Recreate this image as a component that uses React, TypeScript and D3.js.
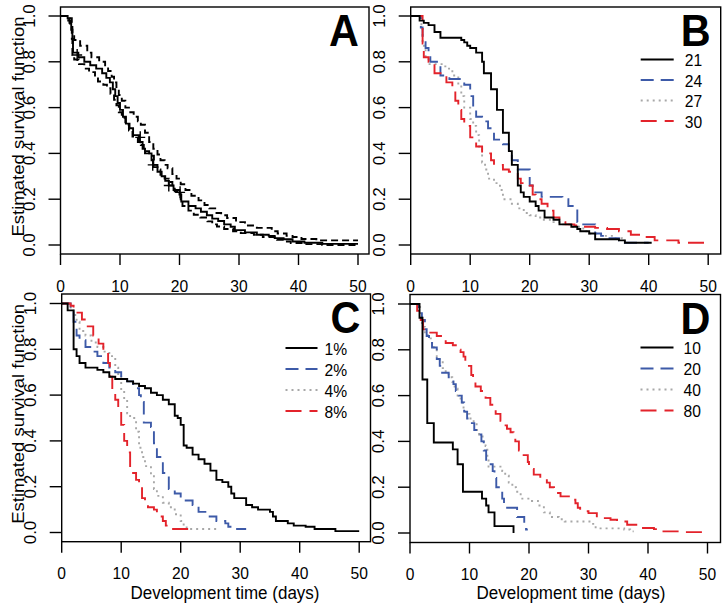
import React from "react";
import * as d3 from "d3";

type Pt = [number, number];

// ---------- DATA ----------
const xTicks = [0, 10, 20, 30, 40, 50];
const yTicks = [0, 0.2, 0.4, 0.6, 0.8, 1.0];
const yTickLabels = ["0.0", "0.2", "0.4", "0.6", "0.8", "1.0"];
const panelLetters = ["A", "B", "C", "D"];
const legendB = ["21", "24", "27", "30"];
const legendC = ["1%", "2%", "4%", "8%"];
const legendD = ["10", "20", "40", "80"];
const yTitle = "Estimated survival function";
const xTitle = "Development time (days)";

// Panel A: overall KM estimate with confidence band
const survA: Pt[] = [[0,1],[1.2,0.99],[1.5,0.97],[1.8,0.94],[2.0,0.90],[2.1,0.84],[3.0,0.82],[4.0,0.80],[5.0,0.785],[6.0,0.77],[7.0,0.75],[7.7,0.73],[8.3,0.71],[8.8,0.68],[9.2,0.65],[9.6,0.62],[10.0,0.59],[10.5,0.56],[11.0,0.53],[11.6,0.51],[12.2,0.48],[13.2,0.45],[13.8,0.42],[14.2,0.40],[15.3,0.37],[15.6,0.34],[16.3,0.32],[17.0,0.30],[17.6,0.28],[18.2,0.26],[19.0,0.24],[20.0,0.22],[20.3,0.19],[21.5,0.17],[22.7,0.16],[23.6,0.145],[24.6,0.13],[25.5,0.115],[26.5,0.105],[27.5,0.09],[28.6,0.08],[29.3,0.065],[31.0,0.055],[33.0,0.045],[35.0,0.04],[36.0,0.03],[37.5,0.025],[39.0,0.015],[41.0,0.01],[44.0,0.005],[50.0,0.005]];
const upperA: Pt[] = [[0,1],[1.5,0.99],[1.9,0.96],[2.0,0.92],[2.3,0.895],[3.3,0.87],[4.5,0.84],[5.2,0.82],[6.5,0.80],[7.5,0.78],[8.0,0.76],[8.6,0.735],[9.0,0.71],[9.4,0.68],[9.8,0.655],[10.3,0.63],[10.9,0.60],[11.5,0.58],[12.3,0.56],[13.0,0.54],[13.5,0.525],[14.2,0.49],[14.9,0.45],[15.6,0.42],[16.3,0.395],[16.8,0.37],[17.5,0.35],[18.0,0.335],[18.8,0.31],[19.5,0.29],[20.2,0.265],[21.0,0.24],[22.0,0.215],[23.2,0.195],[24.2,0.175],[25.0,0.16],[26.0,0.14],[27.0,0.13],[28.0,0.118],[29.5,0.10],[31.0,0.085],[33.0,0.075],[35.5,0.06],[36.5,0.05],[38.0,0.04],[39.0,0.035],[40.5,0.026],[43.0,0.02],[50.0,0.02]];
const lowerA: Pt[] = [[0,1],[1.3,0.98],[1.6,0.95],[1.9,0.90],[2.0,0.83],[2.3,0.81],[3.1,0.79],[4.0,0.77],[4.8,0.755],[5.8,0.735],[6.3,0.714],[7.2,0.70],[7.8,0.685],[8.4,0.66],[9.0,0.634],[9.4,0.61],[9.8,0.58],[10.3,0.555],[10.9,0.525],[11.5,0.50],[12.1,0.474],[13.0,0.45],[13.5,0.437],[14.0,0.41],[14.9,0.39],[15.7,0.35],[16.3,0.33],[16.8,0.307],[17.5,0.29],[18.2,0.275],[18.8,0.255],[19.2,0.234],[20.2,0.20],[20.5,0.17],[21.5,0.15],[22.4,0.132],[23.5,0.12],[24.7,0.103],[25.5,0.09],[26.3,0.081],[27.5,0.07],[29.0,0.06],[30.3,0.052],[32.5,0.045],[34.0,0.035],[36.4,0.023],[37.5,0.015],[38.7,0.009],[41.0,0.004],[44.0,0.0],[50.0,0.0]];
const censorA: Pt[] = [[2.8,0.83],[13.4,0.47],[15.5,0.35],[18.2,0.26],[20.1,0.23]];

// Panel B: temperature
const survB21: Pt[] = [[0,1],[1.5,0.98],[2.2,0.97],[3,0.96],[4,0.93],[5,0.905],[8.5,0.895],[9,0.885],[9.5,0.87],[10,0.86],[11,0.84],[12,0.80],[12.3,0.75],[13.5,0.68],[14.5,0.59],[15.5,0.49],[16.5,0.41],[17,0.35],[18,0.26],[18.5,0.23],[19,0.21],[20,0.19],[21,0.17],[21.5,0.15],[22.5,0.12],[24,0.11],[25,0.09],[27,0.08],[28,0.07],[28.5,0.06],[30,0.05],[31,0.025],[35,0.02],[36,0.01],[40.5,0.01]];
const survB24: Pt[] = [[0,1],[1.7,0.95],[2,0.90],[2.5,0.86],[3,0.82],[3.3,0.80],[5,0.74],[6.5,0.725],[8.5,0.71],[9,0.70],[10,0.65],[10.5,0.60],[11,0.56],[12,0.54],[13,0.51],[14,0.46],[15.5,0.44],[16.5,0.40],[17,0.37],[18,0.33],[20,0.26],[20.5,0.23],[22,0.21],[25.5,0.20],[26.5,0.17],[28,0.10],[29,0.09],[31,0.05],[32,0.04],[33,0.03],[35,0.02],[36,0.01],[40,0.01]];
const survB27: Pt[] = [[0,1],[1.8,0.95],[2,0.87],[2.5,0.82],[3,0.79],[5.5,0.78],[6,0.77],[7,0.74],[8,0.70],[8.5,0.65],[9,0.60],[10,0.55],[10.5,0.52],[11,0.48],[11.5,0.42],[12,0.36],[12.5,0.33],[13,0.29],[14,0.27],[15,0.24],[15.5,0.20],[17,0.18],[18,0.16],[19,0.14],[20,0.13],[21,0.12],[22,0.11],[24,0.10],[25,0.09],[27,0.08],[29,0.06],[30,0.05],[32,0.04],[34,0.03],[35.5,0.02],[36,0.02]];
const survB30: Pt[] = [[0,1],[2,0.88],[2.2,0.82],[3,0.80],[4,0.75],[5.5,0.74],[6,0.71],[7,0.68],[7.5,0.63],[8,0.59],[8.5,0.55],[9,0.52],[10,0.47],[11,0.43],[12,0.40],[13.5,0.37],[14,0.35],[15.5,0.33],[16.5,0.32],[18,0.29],[18.5,0.27],[20,0.26],[20.5,0.22],[21,0.20],[22,0.18],[23,0.15],[24,0.12],[25,0.10],[26,0.09],[27.5,0.085],[29,0.08],[31,0.075],[33,0.07],[35,0.06],[37,0.045],[39,0.035],[41,0.02],[45,0.01],[50,0.01]];

// Panel C: concentration
const survC1: Pt[] = [[0,1],[1,0.97],[2,0.80],[2.5,0.77],[3,0.74],[4,0.72],[6,0.71],[7,0.70],[8,0.68],[9,0.67],[11,0.66],[12,0.65],[13,0.64],[14,0.63],[15,0.61],[16,0.60],[17,0.58],[18,0.56],[19,0.51],[19.5,0.50],[20,0.47],[20.5,0.38],[21,0.37],[22,0.34],[23,0.32],[24,0.30],[25,0.27],[26,0.23],[27,0.22],[28,0.20],[28.5,0.17],[29,0.15],[31,0.12],[32,0.11],[33,0.10],[35,0.09],[35.5,0.07],[36,0.05],[38,0.04],[39,0.03],[41,0.025],[42.5,0.015],[46,0.006],[50,0.006]];
const survC2: Pt[] = [[0,1],[1.5,0.97],[2,0.92],[2.5,0.86],[3,0.84],[4,0.81],[5,0.79],[6,0.77],[7,0.74],[8,0.72],[9,0.70],[10,0.67],[11,0.66],[12,0.63],[13,0.60],[13.3,0.57],[13.8,0.48],[15,0.46],[15.5,0.39],[16,0.33],[17,0.26],[18,0.19],[19,0.17],[20,0.14],[22,0.12],[23,0.09],[24.5,0.07],[26,0.05],[27.5,0.04],[28,0.025],[29,0.015],[31,0.015]];
const survC4: Pt[] = [[0,1],[1.5,0.97],[2,0.95],[2.5,0.92],[3,0.88],[4,0.86],[5,0.83],[6,0.81],[7,0.79],[8,0.77],[9,0.72],[9.5,0.68],[10,0.62],[10.5,0.58],[11,0.52],[11.5,0.50],[12.5,0.44],[13,0.37],[13.5,0.33],[14,0.29],[15,0.25],[15.5,0.19],[16,0.16],[17,0.13],[18,0.11],[19,0.08],[20,0.05],[20.5,0.03],[21,0.015],[26,0.015]];
const survC8: Pt[] = [[0,1],[1.5,0.99],[2,0.96],[3.4,0.93],[4.2,0.90],[5.3,0.86],[6.2,0.825],[7,0.79],[7.8,0.74],[8.1,0.68],[8.5,0.62],[9,0.58],[9.5,0.53],[10,0.47],[10.5,0.40],[11,0.35],[11.5,0.28],[12,0.26],[12.5,0.23],[13,0.20],[13.5,0.15],[14,0.14],[14.5,0.11],[15.5,0.10],[16,0.07],[17,0.05],[17.5,0.03],[18,0.015],[21.5,0.015]];

// Panel D: density
const survD10: Pt[] = [[0,1],[1.6,0.94],[2.1,0.67],[2.9,0.48],[4,0.395],[7.2,0.365],[8,0.30],[8.9,0.18],[12.1,0.15],[12.8,0.12],[13.2,0.09],[14.2,0.03],[17.4,0]];
const survD20: Pt[] = [[0,1],[1.5,0.96],[2,0.93],[2.5,0.89],[2.8,0.86],[3.2,0.84],[3.7,0.81],[4.5,0.76],[5,0.73],[5.4,0.70],[6.5,0.68],[7.3,0.65],[7.7,0.62],[8.2,0.60],[8.7,0.57],[9.1,0.53],[9.6,0.50],[10.2,0.48],[10.8,0.45],[11.3,0.43],[12,0.40],[12.4,0.36],[12.8,0.30],[13.9,0.27],[14.2,0.24],[14.5,0.20],[15.5,0.15],[15.8,0.11],[18,0.07],[19.2,0.04],[19.5,0.015],[19.8,0.015]];
const survD40: Pt[] = [[0,1],[1.7,0.95],[2,0.90],[2.5,0.87],[3,0.85],[3.5,0.83],[4,0.80],[4.5,0.77],[5,0.75],[5.5,0.72],[6,0.70],[6.5,0.68],[7.1,0.66],[7.5,0.63],[8,0.60],[8.5,0.57],[9,0.54],[9.3,0.52],[10,0.50],[10.7,0.48],[11.2,0.45],[11.6,0.43],[12.2,0.40],[12.7,0.38],[13,0.33],[13.2,0.29],[15.5,0.27],[16,0.25],[16.6,0.22],[17.2,0.20],[17.8,0.18],[18.6,0.15],[20.5,0.14],[21.5,0.12],[22.5,0.09],[23.5,0.07],[25,0.06],[26,0.05],[30.5,0.04],[31.2,0.02],[36,0.015],[37,0.007],[37.6,0.007]];
const survD80: Pt[] = [[0,1],[1.2,0.97],[1.8,0.93],[2.2,0.89],[3.2,0.875],[4.5,0.86],[5.5,0.845],[6,0.83],[7.2,0.82],[7.7,0.80],[8.5,0.79],[9,0.77],[9.3,0.75],[9.9,0.73],[10.3,0.69],[10.6,0.66],[11,0.64],[11.9,0.62],[12.7,0.59],[13.5,0.56],[14,0.54],[14.4,0.52],[15.2,0.49],[15.8,0.47],[16.3,0.455],[16.9,0.44],[17.4,0.42],[17.7,0.40],[18.3,0.36],[19.1,0.34],[19.8,0.31],[20,0.28],[20.8,0.255],[21.9,0.24],[23,0.22],[23.5,0.20],[24.2,0.175],[25.3,0.16],[26.7,0.145],[27.8,0.13],[28.2,0.11],[28.6,0.095],[30,0.087],[31.4,0.065],[33.7,0.058],[34.8,0.05],[36.5,0.036],[38.7,0.022],[41,0.017],[42.6,0.007],[46,0.004],[50,0.004]];

// ---------- STYLES ----------
const FONT = "'Liberation Sans', Arial, Helvetica, sans-serif";
const SX = 0.92;
const LW = 1.9;
type Sty = { color: string; dash?: string };
const sBlack: Sty = { color: "#000000" };
const sBlue: Sty = { color: "#3d5aa8", dash: "13 7" };
const sGray: Sty = { color: "#a8a8a8", dash: "2 4" };
const sRed: Sty = { color: "#e3232b", dash: "16 8" };
const sCI: Sty = { color: "#000000", dash: "7 4" };
const groupStyles = [sBlack, sBlue, sGray, sRed];

type Layout = { x0: number; right: number; top: number; bottom: number; y1: number; y0: number };
const UNIT50 = 297.5;

function T(props: { x: number; y: number; size: number; anchor?: string; rotate?: number; weight?: string; children: React.ReactNode }) {
  const { x, y, size, anchor = "middle", rotate, weight = "normal", children } = props;
  const tr = `translate(${x},${y}) scale(${SX},1)` + (rotate ? ` rotate(${rotate})` : "");
  return (
    <text transform={tr} fontSize={size} textAnchor={anchor} fontWeight={weight} fontFamily={FONT} fill="#000">
      {children}
    </text>
  );
}

function Panel(props: {
  L: Layout;
  letter: string;
  series: { data: Pt[]; sty: Sty }[];
  legend?: string[];
  legendDx?: [number, number, number];
  legendRows: number[];
  censor?: Pt[];
  yTitleOn: boolean;
  xTitleOn: boolean;
  xTitleX?: number;
}) {
  const { L, letter, series, legend, legendDx, legendRows, censor, yTitleOn, xTitleOn, xTitleX } = props;
  const x = d3.scaleLinear().domain([0, 50]).range([L.x0, L.x0 + UNIT50]);
  const y = d3.scaleLinear().domain([0, 1]).range([L.y0, L.y1]);
  const line = d3
    .line<Pt>()
    .x((d) => x(d[0]))
    .y((d) => y(d[1]))
    .curve(d3.curveStepAfter);
  const cy = (L.top + L.bottom) / 2;
  return (
    <g>
      {series.map((s, i) => (
        <path key={i} d={line(s.data) || ""} fill="none" stroke={s.sty.color} strokeWidth={LW} strokeDasharray={s.sty.dash} />
      ))}
      {censor &&
        censor.map((c, i) => (
          <path key={"c" + i} d={`M${x(c[0]) - 5},${y(c[1])}h10M${x(c[0])},${y(c[1]) - 6}v12`} stroke="#000" strokeWidth={1.4} fill="none" />
        ))}
      <rect x={L.x0} y={L.top} width={L.right - L.x0} height={L.bottom - L.top} fill="none" stroke="#000" strokeWidth={1.4} />
      {xTicks.map((t) => (
        <g key={"x" + t}>
          <line x1={x(t)} x2={x(t)} y1={L.bottom} y2={L.bottom + 11} stroke="#000" strokeWidth={1.4} />
          <T x={x(t)} y={L.bottom + 37.5} size={17}>{String(t)}</T>
        </g>
      ))}
      {yTicks.map((t, i) => (
        <g key={"y" + t}>
          <line x1={L.x0 - 12} x2={L.x0} y1={y(t)} y2={y(t)} stroke="#000" strokeWidth={1.4} />
          <T x={L.x0 - 26} y={y(t)} size={17} rotate={-90}>{yTickLabels[i]}</T>
        </g>
      ))}
      <T x={L.right - 10} y={L.top + 39} size={45} anchor="end" weight="bold">{letter}</T>
      {legend &&
        legendDx &&
        legend.map((lab, i) => (
          <g key={"l" + i}>
            <line
              x1={L.right - legendDx[0]}
              x2={L.right - legendDx[1]}
              y1={L.top + legendRows[i]}
              y2={L.top + legendRows[i]}
              stroke={groupStyles[i].color}
              strokeWidth={LW}
              strokeDasharray={groupStyles[i].dash}
            />
            <T x={L.right - legendDx[2]} y={L.top + legendRows[i] + 6.5} size={17} anchor="start">{lab}</T>
          </g>
        ))}
      {yTitleOn && <T x={24} y={cy - 4} size={18.5} rotate={-90}>{yTitle}</T>}
      {xTitleOn && <T x={xTitleX || (L.x0 + L.right) / 2} y={599} size={18.5}>{xTitle}</T>}
    </g>
  );
}

const LA: Layout = { x0: 60.5, right: 369, top: 7, bottom: 254, y1: 16, y0: 245 };
const LB: Layout = { x0: 410.7, right: 720.7, top: 7, bottom: 254, y1: 16, y0: 245 };
const LC: Layout = { x0: 61.7, right: 370.5, top: 294, bottom: 541.7, y1: 303.5, y0: 532.5 };
const LD: Layout = { x0: 410, right: 720.5, top: 294.5, bottom: 542.5, y1: 304, y0: 533 };

export default function App() {
  return (
    <svg width={728} height={605} style={{ position: "absolute", left: 0, top: 0, background: "#fff" }}>
      <rect width={728} height={605} fill="#fff" />
      <Panel
        L={LA}
        letter={panelLetters[0]}
        series={[
          { data: upperA, sty: sCI },
          { data: lowerA, sty: sCI },
          { data: survA, sty: sBlack },
        ]}
        censor={censorA}
        legendRows={[]}
        yTitleOn={true}
        xTitleOn={false}
      />
      <Panel
        L={LB}
        letter={panelLetters[1]}
        series={[
          { data: survB27, sty: sGray },
          { data: survB24, sty: sBlue },
          { data: survB30, sty: sRed },
          { data: survB21, sty: sBlack },
        ]}
        legend={legendB}
        legendDx={[80, 47, 36]}
        legendRows={[52.5, 73, 93.5, 114]}
        yTitleOn={false}
        xTitleOn={false}
      />
      <Panel
        L={LC}
        letter={panelLetters[2]}
        series={[
          { data: survC4, sty: sGray },
          { data: survC2, sty: sBlue },
          { data: survC8, sty: sRed },
          { data: survC1, sty: sBlack },
        ]}
        legend={legendC}
        legendDx={[85, 53, 46]}
        legendRows={[54, 75, 96, 117]}
        yTitleOn={true}
        xTitleOn={true}
        xTitleX={225}
      />
      <Panel
        L={LD}
        letter={panelLetters[3]}
        series={[
          { data: survD40, sty: sGray },
          { data: survD20, sty: sBlue },
          { data: survD80, sty: sRed },
          { data: survD10, sty: sBlack },
        ]}
        legend={legendD}
        legendDx={[80, 47, 37]}
        legendRows={[53, 74, 95, 116]}
        yTitleOn={false}
        xTitleOn={true}
        xTitleX={571}
      />
    </svg>
  );
}
